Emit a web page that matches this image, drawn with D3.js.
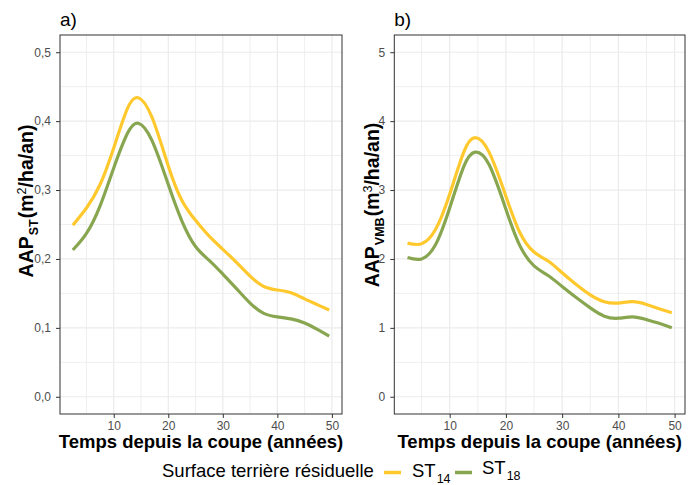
<!DOCTYPE html>
<html>
<head>
<meta charset="utf-8">
<script src="https://cdn.jsdelivr.net/npm/d3@7"></script>
<style>
  body { margin: 0; background: #fff; }
  svg { display: block; font-family: "Liberation Sans", Arial, sans-serif; }
</style>
</head>
<body>
<div id="chart"></div>
<script>
// time since cut (years)
const years = [2.5, 5, 7.5, 10, 12.5, 14.5, 17, 20, 22.5, 25, 27.5, 30, 32.5, 35, 37.5, 40, 42.5, 45, 47.5, 49.5];

// panel a) AAP ST (m2/ha/an)
const stA14 = [0.249, 0.274, 0.308, 0.361, 0.418, 0.434, 0.406, 0.335, 0.285, 0.256, 0.233, 0.214, 0.195, 0.175, 0.160, 0.155, 0.151, 0.142, 0.133, 0.126];
const stA18 = [0.213, 0.237, 0.277, 0.332, 0.382, 0.397, 0.372, 0.308, 0.255, 0.218, 0.198, 0.178, 0.157, 0.136, 0.121, 0.116, 0.113, 0.107, 0.097, 0.088];

// panel b) AAP VMB (m3/ha/an)
const vmbB14 = [2.23, 2.22, 2.43, 2.94, 3.55, 3.76, 3.55, 2.91, 2.38, 2.10, 1.97, 1.80, 1.63, 1.48, 1.38, 1.36, 1.38, 1.34, 1.27, 1.22];
const vmbB18 = [2.02, 2.00, 2.21, 2.74, 3.34, 3.55, 3.37, 2.72, 2.19, 1.90, 1.76, 1.60, 1.44, 1.29, 1.17, 1.14, 1.16, 1.12, 1.06, 1.00];

const xTicks = [10, 20, 30, 40, 50];
const yTicksA = [0, 0.1, 0.2, 0.3, 0.4, 0.5];
const yTicksB = [0, 1, 2, 3, 4, 5];
const seriesNames = ["14", "18"];
const colors = ["#FFC92E", "#88A64F"];

const width = 688, height = 485;
const svg = d3.select("#chart").append("svg")
  .attr("width", width)
  .attr("height", height);

const fmtComma = d => d3.format(".1f")(d).replace(".", ",");

function drawPanel(p) {
  const x = d3.scaleLinear().domain([0.15, 51.85]).range([p.left, p.right]);
  const y = d3.scaleLinear().domain(p.yDomain).range([p.bottom, p.top]);
  const g = svg.append("g");

  // minor grid
  const xMinor = d3.range(5, 51, 10);
  const yStep = p.yTicks[1] - p.yTicks[0];
  const yMinor = p.yTicks.slice(0, -1).map(d => d + yStep / 2);
  g.append("g").selectAll("line").data(xMinor).join("line")
    .attr("x1", d => x(d)).attr("x2", d => x(d))
    .attr("y1", p.top).attr("y2", p.bottom)
    .attr("stroke", "#EBEBEB").attr("stroke-width", 0.8);
  g.append("g").selectAll("line").data(yMinor).join("line")
    .attr("y1", d => y(d)).attr("y2", d => y(d))
    .attr("x1", p.left).attr("x2", p.right)
    .attr("stroke", "#EBEBEB").attr("stroke-width", 0.8);
  // major grid
  g.append("g").selectAll("line").data(xTicks).join("line")
    .attr("x1", d => x(d)).attr("x2", d => x(d))
    .attr("y1", p.top).attr("y2", p.bottom)
    .attr("stroke", "#EBEBEB").attr("stroke-width", 1.2);
  g.append("g").selectAll("line").data(p.yTicks).join("line")
    .attr("y1", d => y(d)).attr("y2", d => y(d))
    .attr("x1", p.left).attr("x2", p.right)
    .attr("stroke", "#EBEBEB").attr("stroke-width", 1.2);

  const line = d3.line()
    .x((d, i) => x(years[i]))
    .y(d => y(d))
    .curve(d3.curveNatural);

  p.series.forEach((s, i) => {
    g.append("path")
      .attr("d", line(s))
      .attr("fill", "none")
      .attr("stroke", colors[i])
      .attr("stroke-width", 3.2)
      .attr("stroke-linejoin", "round");
  });

  g.append("rect")
    .attr("x", p.left).attr("y", p.top)
    .attr("width", p.right - p.left).attr("height", p.bottom - p.top)
    .attr("fill", "none").attr("stroke", "#333").attr("stroke-width", 1);

  const ax = g.append("g")
    .attr("transform", `translate(0,${p.bottom})`)
    .call(d3.axisBottom(x).tickValues(xTicks).tickSize(4).tickPadding(3));
  const ay = g.append("g")
    .attr("transform", `translate(${p.left},0)`)
    .call(d3.axisLeft(y).tickValues(p.yTicks).tickFormat(p.yFormat).tickSize(4).tickPadding(5));
  [ax, ay].forEach(a => {
    a.select(".domain").remove();
    a.selectAll(".tick line").attr("stroke", "#333");
    a.selectAll(".tick text").attr("fill", "#4D4D4D")
      .style("font-size", "12px").style("font-family", "Liberation Sans, Arial, sans-serif");
  });

  // panel tag
  g.append("text")
    .attr("x", p.left).attr("y", 26)
    .style("font-size", "19px")
    .text(p.tag);

  // x title
  g.append("text")
    .attr("x", (p.left + p.right) / 2).attr("y", 448)
    .attr("text-anchor", "middle")
    .style("font-size", "18.5px").style("font-weight", "bold")
    .text("Temps depuis la coupe (années)");

  // y title
  const yt = g.append("text")
    .attr("transform", `translate(${p.yTitleX},${p.yTitleY}) rotate(-90)`)
    .attr("text-anchor", "middle")
    .style("font-size", "19.5px").style("font-weight", "bold");
  yt.append("tspan").text("AAP");
  yt.append("tspan").attr("dy", 5).attr("dx", 1).style("font-size", "12.5px").text(p.sub);
  yt.append("tspan").attr("dy", -5).attr("dx", 1).text("(m");
  yt.append("tspan").attr("dy", -7.5).style("font-size", "12.5px").style("font-weight", "normal").text(p.sup);
  yt.append("tspan").attr("dy", 7.5).text("/ha/an)");
}

drawPanel({
  left: 60, right: 342, top: 35, bottom: 414,
  yDomain: [-0.025, 0.525], yTicks: yTicksA, yFormat: fmtComma,
  series: [stA14, stA18], tag: "a)",
  sub: "ST", sup: "2", yTitleX: 33, yTitleY: 201
});
drawPanel({
  left: 394.3, right: 685, top: 35, bottom: 414,
  yDomain: [-0.25, 5.25], yTicks: yTicksB, yFormat: d3.format("d"),
  series: [vmbB14, vmbB18], tag: "b)",
  sub: "VMB", sup: "3", yTitleX: 379, yTitleY: 205
});

// legend
const legend = svg.append("g");
legend.append("text")
  .attr("x", 162).attr("y", 477)
  .style("font-size", "18.5px")
  .text("Surface terrière résiduelle");
const keyX = [384, 455];
const labX = [412, 482];
const labY = [477, 474];
seriesNames.forEach((s, i) => {
  legend.append("line")
    .attr("x1", keyX[i]).attr("x2", keyX[i] + 17)
    .attr("y1", 472.5).attr("y2", 472.5)
    .attr("stroke", colors[i]).attr("stroke-width", 3.5);
  const t = legend.append("text")
    .attr("x", labX[i]).attr("y", labY[i])
    .style("font-size", "18.5px");
  t.append("tspan").text("ST");
  t.append("tspan").attr("dy", 6).attr("dx", 1).style("font-size", "12.5px").text(s);
});
</script>
</body>
</html>
